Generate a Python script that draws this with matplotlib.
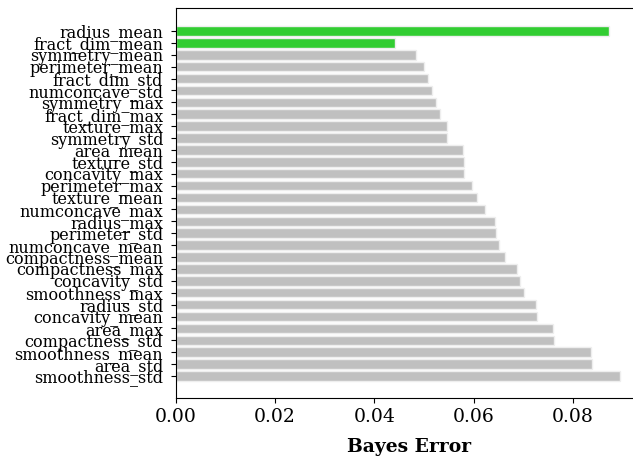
import matplotlib
matplotlib.use("Agg")
import matplotlib.pyplot as plt
import numpy as np

plt.rcParams['font.family'] = ['DejaVu Serif']

features = [
    "radius_mean", "fract_dim_mean", "symmetry_mean", "perimeter_mean",
    "fract_dim_std", "numconcave_std", "symmetry_max", "fract_dim_max",
    "texture_max", "symmetry_std", "area_mean", "texture_std",
    "concavity_max", "perimeter_max", "texture_mean", "numconcave_max",
    "radius_max", "perimeter_std", "numconcave_mean", "compactness_mean",
    "compactness_max", "concavity_std", "smoothness_max", "radius_std",
    "concavity_mean", "area_max", "compactness_std", "smoothness_mean",
    "area_std", "smoothness_std",
]
bayes_error = [
    0.0873, 0.0442, 0.0484, 0.0500,
    0.0508, 0.0516, 0.0525, 0.0532,
    0.0546, 0.0546, 0.0579, 0.0580,
    0.0581, 0.0597, 0.0606, 0.0623,
    0.0643, 0.0645, 0.0650, 0.0662,
    0.0687, 0.0694, 0.0701, 0.0726,
    0.0728, 0.0760, 0.0761, 0.0836,
    0.0838, 0.0894,
]
selected = ["radius_mean", "fract_dim_mean"]

colors = ["limegreen" if f in selected else "silver" for f in features]

fig = plt.figure(figsize=(6.33, 4.62), dpi=100)
ax = fig.add_axes([0.2776, 0.1385, 0.7366, 0.8442])

y = np.arange(len(features))
ax.barh(y, bayes_error, height=0.8, color=colors, edgecolor="#eeeeee", linewidth=1)
ax.set_yticks(y)
ax.set_yticklabels(features, fontsize=11.5)
ax.tick_params(axis="y", pad=5.5)
ax.set_ylim(len(features) - 1 + 1.85, -1.93)
ax.set_xlim(0, max(bayes_error) * 1.05)
ax.set_xticks([0.0, 0.02, 0.04, 0.06, 0.08])
ax.set_xticklabels(["0.00", "0.02", "0.04", "0.06", "0.08"], fontsize=13.5)
ax.set_xlabel("Bayes Error", fontsize=13.5, fontweight="bold", labelpad=9)

fig.savefig("out.png", dpi=100)
